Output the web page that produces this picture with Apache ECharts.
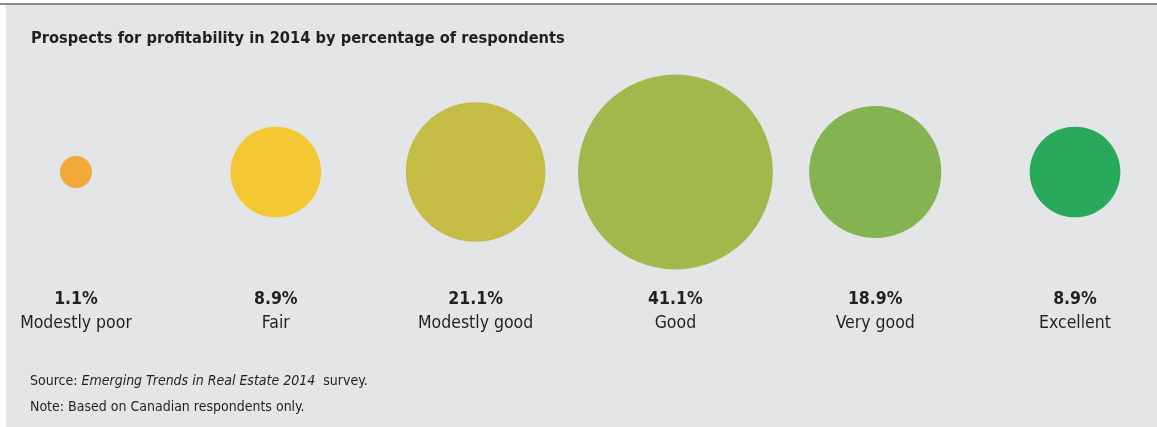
<!DOCTYPE html>
<html>
<head>
<meta charset="utf-8">
<script src="https://cdn.jsdelivr.net/npm/echarts@6/dist/echarts.min.js"></script>
<style>
	html,body{margin:0;padding:0;background:#fff}
	#chart{width:1157px;height:427px}
</style>
</head>
<body>
<div id="chart"></div>
<script>
// data
var categories = ['Modestly poor', 'Fair', 'Modestly good', 'Good', 'Very good', 'Excellent'];
var shares = [1.1, 8.9, 21.1, 41.1, 18.9, 8.9];
var colors = ['#f2a93a', '#f4c833', '#c5bc45', '#a3b84c', '#84b452', '#28aa5a'];

var font = '"Liberation Sans Narrow", "DejaVu Sans Condensed", "Roboto", sans-serif';
var textColor = '#231f20';

var myChart = echarts.init(document.getElementById('chart'));

var option = {
	backgroundColor: '#ffffff',
	animation: false,
	title: {
		text: 'Prospects for profitability in 2014 by percentage of respondents',
		left: 26,
		top: 26,
		textStyle: {
			fontFamily: font,
			fontSize: 16.3,
			fontWeight: 'bold',
			color: textColor
		}
	},
	grid: {
		left: 76,
		right: 82,
		top: 62,
		height: 220
	},
	xAxis: {
		type: 'category',
		data: categories,
		boundaryGap: false,
		axisLine: {show: false},
		axisTick: {show: false},
		splitLine: {show: false},
		axisLabel: {
			margin: 5,
			interval: 0,
			lineHeight: 24,
			formatter: function (name, idx) {
				return '{v|' + shares[idx].toFixed(1) + '%}\n{n|' + name + '}';
			},
			rich: {
				v: {fontFamily: font, fontSize: 17.5, fontWeight: 'bold', color: textColor, lineHeight: 24},
				n: {fontFamily: font, fontSize: 17.5, color: textColor, lineHeight: 24}
			}
		}
	},
	yAxis: {
		type: 'value',
		min: -1,
		max: 1,
		show: false
	},
	series: [{
		type: 'scatter',
		data: shares.map(function (v, i) {
			return {value: [i, 0], itemStyle: {color: colors[i]}};
		}),
		// bubble area follows the share
		symbolSize: function (val, params) {
			return 30.4 * Math.sqrt(shares[params.dataIndex]);
		},
		itemStyle: {opacity: 1}
	}],
	graphic: [
		{type: 'rect', left: 6, top: 5, shape: {width: 1151, height: 422}, style: {fill: '#e4e5e7'}, z: -10},
		{type: 'rect', left: 0, top: 3, shape: {width: 1157, height: 2}, style: {fill: '#8b8b8d'}, z: -9},
		{
			type: 'text', left: 30, top: 374,
			style: {
				text: '{a|Source: }{i|Emerging Trends in Real Estate 2014}{a|  survey.}',
				rich: {
					a: {fontFamily: font, fontSize: 14, fill: textColor},
					i: {fontFamily: font, fontSize: 14, fontStyle: 'italic', fill: textColor}
				}
			}
		},
		{
			type: 'text', left: 30, top: 400,
			style: {text: 'Note: Based on Canadian respondents only.', fontFamily: font, fontSize: 14, fill: textColor}
		}
	]
};
myChart.setOption(option);
</script>
</body>
</html>
